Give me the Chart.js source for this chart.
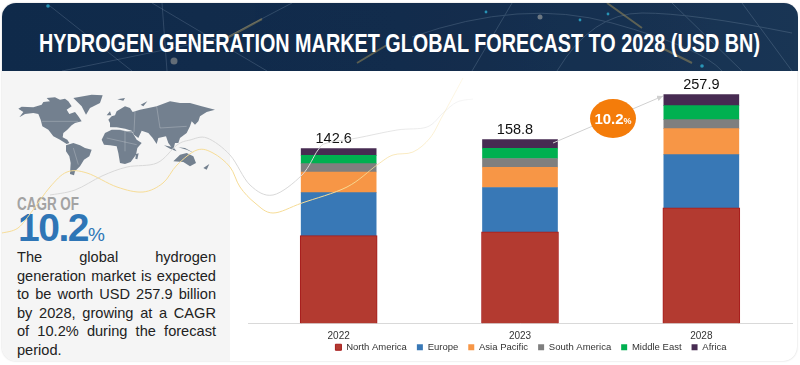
<!DOCTYPE html>
<html>
<head>
<meta charset="utf-8">
<title>Hydrogen generation market</title>
<script src="https://cdn.jsdelivr.net/npm/chart.js@4"></script>
<style>
    html, body { margin: 0; padding: 0; background: #fff; overflow: hidden; }
    #page { position: relative; width: 800px; height: 365px; overflow: hidden; font-family: "Liberation Sans", Arial, sans-serif; }
    #card { position: absolute; left: 2px; top: 3px; width: 795px; height: 358px; border-radius: 14px; overflow: hidden; box-shadow: 0 0 2px #ccc; background: #fff; }
    #banner { position: absolute; left: 2px; top: 3px; width: 796px; height: 68px; border-radius: 14px 14px 0 0; overflow: hidden; background: linear-gradient(90deg, #0f2a4a 0%, #132c4c 50%, #1a3655 100%); }
    #banner svg { position: absolute; left: 0; top: 0; }
    #titleSvg { position: absolute; left: 0; top: 0; }
    #side { position: absolute; left: 2px; top: 71px; width: 228px; height: 290px; background: #f5f5f5; border-bottom-left-radius: 14px; }
    #map { position: absolute; left: 10px; top: 88px; }
    #cagrVal { position: absolute; left: 18px; top: 207px; color: #2e75b6; font: bold 39px/42px "Liberation Sans", sans-serif; letter-spacing: -1.5px; }
    #cagrVal span { font-size: 19px; letter-spacing: 0; font-weight: normal; }
    #blurb { position: absolute; left: 17px; top: 248px; width: 199px; margin: 0; color: #222; font: 14.6px/18.6px "Liberation Sans", sans-serif; text-align: justify; }
    #chartBox { position: absolute; left: 240px; top: 71px; width: 560px; height: 314px; }
    #overlay { position: absolute; left: 0; top: 0; pointer-events: none; }
    #bubble { position: absolute; left: 590px; top: 98.5px; width: 46px; height: 39px; border-radius: 50%; background: #f47c0a; color: #fff; text-align: center; font: bold 15px/39px "Liberation Sans", sans-serif; }
    #bubble span { font-size: 9px; }
</style>
</head>
<body>
<div id="page">
    <div id="card"></div>
    <div id="banner">
        <svg width="796" height="68">
            <g fill="none" stroke="#8fa5bb" stroke-width="1" opacity="0.25">
                <path d="M48 3 L130 68 M150 0 L265 68 M160 0 L165 68 M290 0 L225 34 L60 68"/>
                <path d="M510 0 L470 68 M410 34 Q520 -5 610 20 T720 68 M555 68 Q590 10 640 10 T790 30"/>
                <path d="M670 0 L740 68 M740 0 L790 68"/>
            </g>
            <g fill="none" stroke="#c9a95a" stroke-width="2" opacity="0.4">
                <path d="M225 35 L260 16 M355 60 L385 42 M605 0 L640 25 M660 45 L690 60"/>
            </g>
            <circle cx="172" cy="58" r="3.5" fill="#c8bfae" opacity="0.45"/>
            <circle cx="538" cy="14" r="2.5" fill="#d8d0c0" opacity="0.45"/>
            <g fill="#2fb6d8" opacity="0.75">
                <circle cx="46" cy="3" r="1.8"/><circle cx="484" cy="9" r="1.4"/>
                <circle cx="578" cy="17" r="1.4"/><circle cx="606" cy="11" r="1.4"/><circle cx="700" cy="63" r="1.8"/>
            </g>
        </svg>
    </div>
    <div id="side"></div>
    <svg id="map" width="210" height="90" viewBox="0 0 630 270">
        <g fill="#73808f">
            <path d="M25 62 L35 56 L70 58 L95 50 L100 42 L120 40 L110 30 L135 28 L150 35 L165 32 L175 40 L185 55 L170 65 L178 78 L195 72 L205 85 L215 100 L195 105 L185 112 L172 125 L160 135 L158 148 L172 155 L178 165 L170 168 L150 155 L130 145 L115 125 L97 115 L92 95 L85 78 L70 75 L45 78 L28 88 L40 72 Z"/>
            <path d="M190 30 L245 20 L278 22 L270 45 L240 60 L228 80 L215 55 Z"/>
            <path d="M168 172 L190 165 L210 172 L225 180 L245 185 L238 205 L222 215 L210 235 L195 250 L192 262 L180 258 L182 225 L178 205 L168 190 Z"/>
            <path d="M275 155 L285 135 L305 125 L330 125 L350 130 L365 130 L380 155 L395 165 L382 180 L378 200 L362 222 L345 228 L330 225 L325 195 L320 175 L300 172 L282 170 Z"/>
            <path d="M295 95 L305 85 L315 82 L320 70 L345 55 L360 60 L368 72 L390 65 L440 55 L480 40 L510 45 L540 45 L575 55 L615 65 L590 72 L570 85 L565 100 L555 110 L545 100 L540 115 L530 135 L510 150 L505 165 L495 165 L490 185 L475 165 L468 145 L445 150 L440 168 L428 150 L415 135 L395 128 L385 150 L372 140 L365 128 L345 122 L320 118 L300 118 L300 105 Z"/>
            <path d="M490 220 L510 200 L530 195 L550 205 L558 225 L540 235 L520 222 Z"/>
            <path d="M378 198 L386 196 L382 214 L376 212 Z"/>
            <path d="M462 172 L480 182 L500 190 L490 178 Z M505 178 L530 185 L552 195 L525 180 Z"/>
            <path d="M290 82 L300 70 L304 82 Z M322 34 L345 30 L340 38 Z M392 50 L412 40 L400 55 Z M556 95 L568 82 L564 98 Z M580 240 L598 228 L590 245 Z"/>
        </g>
        <g fill="none" stroke="#f5f5f5" stroke-width="1.2" opacity="0.6">
            <path d="M95 100 L205 100 M300 118 L372 135 M345 122 L345 190 M290 150 L380 170 M375 70 L372 132 M440 55 L450 120 L530 115 M190 180 L205 230"/>
        </g>
    </svg>
    <svg id="titleSvg" width="800" height="365">
        <text x="39" y="52" textLength="721" lengthAdjust="spacingAndGlyphs" fill="#fff" font-family="Liberation Sans" font-weight="bold" font-size="26">HYDROGEN GENERATION MARKET GLOBAL FORECAST TO 2028 (USD BN)</text>
        <text x="17" y="210" textLength="62" lengthAdjust="spacingAndGlyphs" fill="#a3a3a3" font-family="Liberation Sans" font-weight="bold" font-size="19">CAGR OF</text>
    </svg>
    <div id="cagrVal">10.2<span>%</span></div>
    <p id="blurb">The global hydrogen generation market is expected to be worth USD 257.9 billion by 2028, growing at a CAGR of 10.2% during the forecast period.</p>
    <div id="chartBox"><canvas id="chart" width="560" height="314"></canvas></div>
    <svg id="overlay" width="800" height="365">
        <defs>
            <marker id="head" markerWidth="7" markerHeight="7" refX="6" refY="3" orient="auto">
                <path d="M0 0 L6 3 L0 6 Z" fill="#d0d0d0"/>
            </marker>
            <linearGradient id="fadeGray" gradientUnits="userSpaceOnUse" x1="320" y1="0" x2="475" y2="0">
                <stop offset="0" stop-color="#d8d8d8"/><stop offset="1" stop-color="#d8d8d8" stop-opacity="0.2"/>
            </linearGradient>
            <linearGradient id="fadeYellow" gradientUnits="userSpaceOnUse" x1="340" y1="0" x2="465" y2="0">
                <stop offset="0" stop-color="#f6dc96"/><stop offset="1" stop-color="#f6dc96" stop-opacity="0.2"/>
            </linearGradient>
        </defs>
        <path id="grayCurve" fill="none" stroke="url(#fadeGray)" stroke-width="1"/>
        <path id="yellowCurve" fill="none" stroke="url(#fadeYellow)" stroke-width="1"/>
        <line x1="553" y1="143" x2="663" y2="96" stroke="#d0d0d0" stroke-width="1" marker-end="url(#head)"/>
    </svg>
    <div id="bubble">10.2<span>%</span></div>
</div>

<script>
(function () {
    'use strict';

    var CATEGORIES = ['2022', '2023', '2028'];
    var TOTAL_LABELS = ['142.6', '158.8', '257.9'];

    // Segment sizes. The source bars are not drawn
    // to the scale of their printed totals, so these follow the picture.
    var NORTH_AMERICA = [99.1, 103.3, 130.3];
    var EUROPE = [48.4, 49.9, 60.0];
    var ASIA_PACIFIC = [23.2, 22.9, 29.3];
    var SOUTH_AMERICA = [9.5, 9.8, 10.1];
    var MIDDLE_EAST = [9.3, 11.6, 15.8];
    var AFRICA = [7.5, 9.8, 12.4];

    // thin decorative ribbons behind the text, page pixels
    var GRAY_RIBBON = [[50, 195], [75, 190], [102, 176], [127, 167], [157, 163], [177, 145], [190, 140], [207, 138], [230, 155], [250, 185], [273, 195], [302, 175], [318, 150], [327, 143], [357, 138], [397, 130], [427, 127], [443, 113], [457, 102], [473, 99]];
    var YELLOW_RIBBON = [[2, 233], [18, 228], [33, 210], [50, 187], [67, 172], [87, 173], [117, 187], [143, 192], [163, 183], [177, 165], [197, 150], [213, 153], [230, 167], [240, 187], [255, 203], [273, 213], [302, 203], [347, 187], [377, 165], [393, 155], [413, 152], [430, 138], [443, 115], [463, 78]];

    function smoothPath(pts) {
        var d = 'M' + pts[0][0] + ' ' + pts[0][1];
        for (var i = 0; i < pts.length - 1; i++) {
            var p0 = pts[i - 1] || pts[i];
            var p1 = pts[i];
            var p2 = pts[i + 1];
            var p3 = pts[i + 2] || p2;
            d += ' C' + (p1[0] + (p2[0] - p0[0]) / 6) + ' ' + (p1[1] + (p2[1] - p0[1]) / 6)
                + ' ' + (p2[0] - (p3[0] - p1[0]) / 6) + ' ' + (p2[1] - (p3[1] - p1[1]) / 6)
                + ' ' + p2[0] + ' ' + p2[1];
        }
        return d;
    }

    document.getElementById('grayCurve').setAttribute('d', smoothPath(GRAY_RIBBON));
    document.getElementById('yellowCurve').setAttribute('d', smoothPath(YELLOW_RIBBON));

    function series(label, data, color) {
        return {
            label: label,
            data: data,
            backgroundColor: color,
            borderWidth: 0,
            barThickness: 75,
            stack: 'total'
        };
    }

    var datasets = [
        series('North America', NORTH_AMERICA, '#b33a30'),
        series('Europe', EUROPE, '#3878b6'),
        series('Asia Pacific', ASIA_PACIFIC, '#f79646'),
        series('South America', SOUTH_AMERICA, '#7f7f7f'),
        series('Middle East', MIDDLE_EAST, '#00b050'),
        series('Africa', AFRICA, '#472b52')
    ];
    datasets[0].barThickness = 77;
    datasets[0].borderWidth = 1;
    datasets[0].borderColor = '#a61b1b';

    var totalsPlugin = {
        id: 'totals',
        afterDatasetsDraw: function (chart) {
            var ctx = chart.ctx;
            var nudge = [-5, -5, 0];
            ctx.save();
            ctx.font = '14.5px "Liberation Sans", sans-serif';
            ctx.fillStyle = '#111';
            ctx.textAlign = 'center';
            ctx.textBaseline = 'bottom';
            for (var i = 0; i < CATEGORIES.length; i++) {
                var sum = 0;
                for (var d = 0; d < datasets.length; d++) { sum += datasets[d].data[i]; }
                var x = chart.scales.x.getPixelForValue(i) + nudge[i];
                ctx.fillText(TOTAL_LABELS[i], x, chart.scales.y.getPixelForValue(sum) - 2);
            }
            ctx.restore();
        }
    };

    // legend sits tight under the ticks and a little right of centre in the source
    var legendShift = {
        id: 'legendShift',
        afterLayout: function (chart) {
            chart.legend.left += 11;
            chart.legend.right += 11;
            chart.legend.top -= 17;
            chart.legend.bottom -= 17;
        }
    };

    new Chart(document.getElementById('chart'), {
        type: 'bar',
        data: { labels: CATEGORIES, datasets: datasets },
        plugins: [totalsPlugin, legendShift],
        options: {
            responsive: false,
            animation: false,
            layout: { padding: { left: 8, right: 8, top: 4, bottom: 6 } },
            plugins: {
                tooltip: { enabled: false },
                legend: {
                    display: true,
                    position: 'bottom',
                    onClick: null,
                    labels: { boxWidth: 6, boxHeight: 6, padding: 10, color: '#333', font: { size: 9.5, family: '"Liberation Sans", sans-serif' } }
                }
            },
            scales: {
                x: {
                    stacked: true,
                    grid: { display: false, drawTicks: false },
                    border: { color: '#d9d9d9' },
                    ticks: { color: '#333', padding: 7, font: { size: 10, family: '"Liberation Sans", sans-serif' } }
                },
                y: {
                    stacked: true,
                    display: false,
                    min: 0,
                    max: 280
                }
            }
        }
    });
})();
</script>
</body>
</html>
